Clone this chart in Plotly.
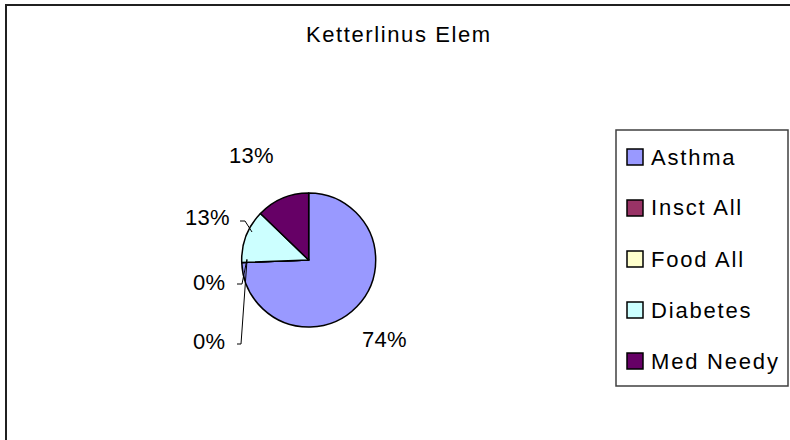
import plotly.graph_objects as go

# ---- data ----
categories = ["Asthma", "Insct All", "Food All", "Diabetes", "Med Needy"]
shares = [74.4, 0, 0, 12.8, 12.8]
colors = ["#9999FF", "#993366", "#FFFFCC", "#CCFFFF", "#660066"]
title_text = "Ketterlinus Elem"

# ---- layout helpers (pixel -> paper) ----
W, H = 790, 440


def px(x):
    return x / W


def py(y):
    return 1 - y / H


FONT = "Liberation Sans, Arial, sans-serif"
FSIZE = 22


def spaced(t, ls):
    return f'<span style="letter-spacing:{ls}px">{t}</span>'


cx, cy, r = 308.7, 260, 67

fig = go.Figure(
    go.Pie(
        labels=categories,
        values=shares,
        marker=dict(colors=colors, line=dict(color="black", width=1.5)),
        sort=False,
        direction="clockwise",
        rotation=0,
        textinfo="none",
        hoverinfo="label+percent",
        showlegend=False,
        domain=dict(x=[px(cx - r), px(cx + r)], y=[py(cy + r), py(cy - r)]),
    )
)

total = sum(shares)
pct_labels = [f"{round(100 * v / total)}%" for v in shares]

# label placement (pixels) per category, and leader lines
label_pos = [(384, 339), (209, 341), (209, 282), (207, 217), (252, 156)]
leaders = [None,
           [(237, 344), (241, 344), (247, 260)],
           [(237, 284), (242, 284), (247, 259)],
           [(240, 221), (245, 221), (252, 232)],
           None]

annotations = []
shapes = []

# outer chart border
shapes.append(dict(type="rect", xref="paper", yref="paper",
                   x0=px(6), y0=py(5), x1=px(W + 5), y1=py(H + 5),
                   line=dict(color="#202020", width=2), layer="below"))

for lab, (x, y), ld in zip(pct_labels, label_pos, leaders):
    annotations.append(dict(text=spaced(lab, 0.3), x=px(x), y=py(y), xref="paper", yref="paper",
                            xanchor="center", yanchor="middle", showarrow=False,
                            font=dict(family=FONT, size=FSIZE, color="black")))
    if ld:
        path = "M " + " L ".join(f"{px(a)},{py(b)}" for a, b in ld)
        shapes.append(dict(type="path", xref="paper", yref="paper", path=path,
                           line=dict(color="black", width=1)))

# title
annotations.append(dict(text=spaced(title_text, 1.6), x=px(399), y=py(34), xref="paper", yref="paper",
                        xanchor="center", yanchor="middle", showarrow=False,
                        font=dict(family=FONT, size=FSIZE, color="black")))

# legend box
shapes.append(dict(type="rect", xref="paper", yref="paper",
                   x0=px(616), y0=py(130), x1=px(788), y1=py(386),
                   line=dict(color="#404040", width=1.5), fillcolor="white"))
for i, (cat, col) in enumerate(zip(categories, colors)):
    yc = 157 + 51 * i
    shapes.append(dict(type="rect", xref="paper", yref="paper",
                       x0=px(627), x1=px(643), y0=py(yc + 8), y1=py(yc - 8),
                       line=dict(color="black", width=1.5), fillcolor=col))
    annotations.append(dict(text=spaced(cat, 1.8), x=px(649), y=py(yc), xref="paper", yref="paper",
                            xanchor="left", yanchor="middle", showarrow=False,
                            font=dict(family=FONT, size=FSIZE, color="black")))

fig.update_layout(
    width=W, height=H,
    margin=dict(l=0, r=0, t=0, b=0),
    paper_bgcolor="white", plot_bgcolor="white",
    showlegend=False,
    annotations=annotations,
    shapes=shapes,
)

fig.write_html(
    "out.html",
    config={"displayModeBar": False},
    post_script="document.body.style.margin='0';document.body.style.overflow='hidden';",
)
